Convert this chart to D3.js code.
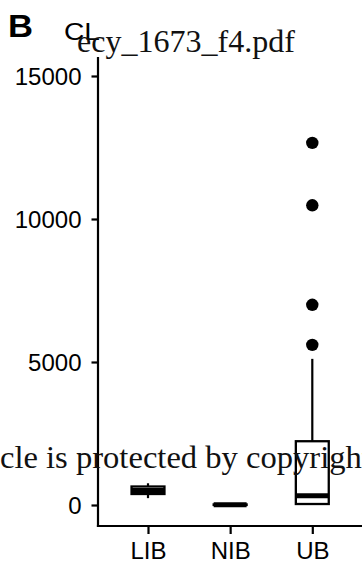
<!DOCTYPE html>
<html>
<head>
<meta charset="utf-8">
<script src="https://cdn.jsdelivr.net/npm/d3@7"></script>
<style>
  html, body { margin: 0; padding: 0; background: #fff; }
  svg { display: block; }
</style>
</head>
<body>
<svg id="chart" width="362" height="563"></svg>
<script>
// Groups and their box-plot summaries (CL)
const categories = ["LIB", "NIB", "UB"];
const q1 =        [385, 2, 35];
const medians =   [510, 8, 320];
const q3 =        [647, 20, 2230];
const whiskerLo = [240, 0, 0];
const whiskerHi = [760, 35, 5110];
// Points beyond the whiskers, per group
const outliers = [[], [], [12660, 10480, 7000, 5600]];
const yTicks = [0, 5000, 10000, 15000];

const svg = d3.select("#chart");
const margin = { left: 98, right: 0, top: 57, bottom: 37 };
const W = 362, H = 563;

const y = d3.scaleLinear()
  .domain([-734, 15664])
  .range([H - margin.bottom, margin.top]);

const x = d3.scalePoint()
  .domain(categories)
  .range([148, 312.3]);
const band = 82.3;       // one category step in px
const boxW = band * 0.4;

const g = svg.append("g");

// Boxes
categories.forEach((c, i) => {
  const cx = x(c);
  // whiskers
  g.append("line")
    .attr("x1", cx).attr("x2", cx)
    .attr("y1", y(q3[i])).attr("y2", y(whiskerHi[i]))
    .attr("stroke", "#000").attr("stroke-width", 2.2);
  g.append("line")
    .attr("x1", cx).attr("x2", cx)
    .attr("y1", y(q1[i])).attr("y2", y(whiskerLo[i]))
    .attr("stroke", "#000").attr("stroke-width", 2.2);
  // box
  g.append("rect")
    .attr("x", cx - boxW / 2).attr("width", boxW)
    .attr("y", y(q3[i])).attr("height", Math.max(0, y(q1[i]) - y(q3[i])))
    .attr("fill", "none").attr("stroke", "#000").attr("stroke-width", 2.3);
  // median
  g.append("line")
    .attr("x1", cx - boxW / 2).attr("x2", cx + boxW / 2)
    .attr("y1", y(medians[i])).attr("y2", y(medians[i]))
    .attr("stroke", "#000").attr("stroke-width", 5);
  // outliers
  g.selectAll(null).data(outliers[i]).enter().append("circle")
    .attr("cx", cx).attr("cy", d => y(d)).attr("r", 6.2)
    .attr("fill", "#000");
});

// Y axis
const yAxis = g.append("g")
  .attr("transform", `translate(${margin.left},0)`)
  .call(d3.axisLeft(y).tickValues(yTicks).tickSize(6.5).tickPadding(10).tickFormat(d3.format("d")));
yAxis.select(".domain").remove();
yAxis.append("line")
  .attr("x1", 0).attr("x2", 0)
  .attr("y1", margin.top).attr("y2", H - margin.bottom + 1.1)
  .attr("stroke", "#000").attr("stroke-width", 2.2);

// X axis
const xAxis = g.append("g")
  .attr("transform", `translate(0,${H - margin.bottom})`)
  .call(d3.axisBottom(x).tickSize(8).tickPadding(8));
xAxis.select(".domain").remove();
xAxis.append("line")
  .attr("x1", margin.left - 1.1).attr("x2", W)
  .attr("y1", 0).attr("y2", 0)
  .attr("stroke", "#000").attr("stroke-width", 2.2);

[yAxis, xAxis].forEach(a => {
  a.selectAll(".tick line").attr("stroke", "#000").attr("stroke-width", 2.2);
  a.selectAll(".tick text")
    .attr("fill", "#000")
    .style("font-family", "'Liberation Sans', Arial, sans-serif")
    .style("font-size", "24px");
});
yAxis.selectAll(".tick text").attr("dy", "0.35em");
xAxis.selectAll(".tick text").attr("dy", "0.71em");

// Panel letter and panel title
svg.append("text")
  .attr("x", 8).attr("y", 37)
  .attr("textLength", 25).attr("lengthAdjust", "spacingAndGlyphs")
  .style("font-family", "'Liberation Sans', Arial, sans-serif")
  .style("font-size", "31px").style("font-weight", "bold")
  .text("B");
svg.append("text")
  .attr("x", 64).attr("y", 40)
  .attr("textLength", 36).attr("lengthAdjust", "spacingAndGlyphs")
  .style("font-family", "'Liberation Sans', Arial, sans-serif")
  .style("font-size", "24px")
  .text("CL");

// Serif overlays: file name and copyright notice, sized to their measured run
const serif = "'Liberation Serif', 'DejaVu Serif', serif";
function fitText(str, xPos, yPos, targetWidth, run) {
  const t = svg.append("text")
    .attr("y", yPos)
    .attr("fill", "#111")
    .style("font-family", serif)
    .style("font-size", "100px")
    .text(str);
  const probe = svg.append("text")
    .style("font-family", serif)
    .style("font-size", "100px");
  let widthRef = t.node().getComputedTextLength();
  let pre = 0;
  if (run) {
    probe.text(run.before);
    pre = probe.node().getComputedTextLength();
    probe.text(run.before + run.visible);
    widthRef = probe.node().getComputedTextLength() - pre;
  }
  probe.remove();
  const k = targetWidth / widthRef;
  t.style("font-size", (100 * k) + "px").attr("x", xPos - pre * k);
  return t;
}
fitText("ecy_1673_f4.pdf", 77, 52, 218);
fitText("This article is protected by copyright. All rights reserved.", 0, 468, 362,
  { before: "This arti", visible: "cle is protected by copyrigh" });
</script>
</body>
</html>
